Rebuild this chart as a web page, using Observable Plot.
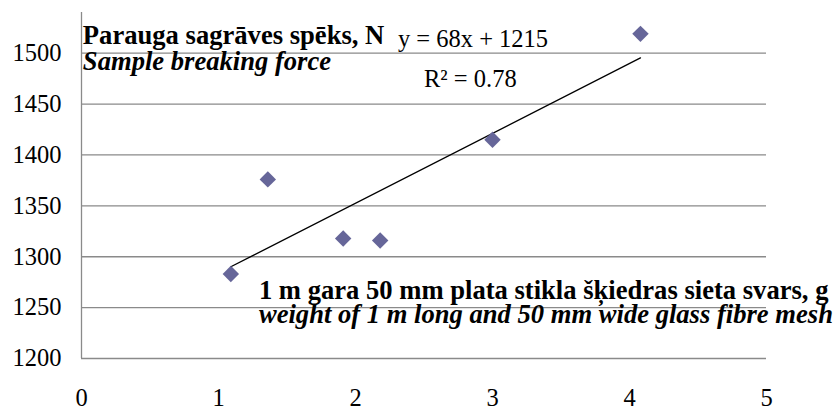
<!DOCTYPE html>
<html>
<head>
<meta charset="utf-8">
<script src="https://cdn.jsdelivr.net/npm/d3@7"></script>
<script src="https://cdn.jsdelivr.net/npm/@observablehq/plot@0.6"></script>
<style>
  html, body { margin: 0; padding: 0; background: #fff; }
  svg { display: block; }
  #chart svg, #chart svg text { font-family: "Liberation Serif", serif !important; }
</style>
</head>
<body>
<div id="chart"></div>
<script>
// Data
const meshWeight = [1.09, 1.36, 1.91, 2.18, 3.0, 4.08];
const breakingForce = [1283, 1376, 1318, 1316, 1415, 1519];
const yTicks = [1200, 1250, 1300, 1350, 1400, 1450, 1500];
const xTicks = [0, 1, 2, 3, 4, 5];
const yTitleLines = ["Parauga sagrāves spēks, N", "Sample breaking force"];
const xTitleLines = ["1 m gara 50 mm plata stikla šķiedras sieta svars, g", "weight of 1 m long and 50 mm wide glass fibre mesh"];
const equationText = ["y = 68x + 1215", "R² = 0.78"];

const points = meshWeight.map((x, i) => ({x, y: breakingForce[i]}));

const chart = Plot.plot({
  width: 834,
  height: 407,
  marginLeft: 81,
  marginRight: 68,
  marginTop: 12,
  marginBottom: 49,
  style: {fontSize: "24.5px", color: "#000", background: "#fff"},
  x: {domain: [0, 5], ticks: xTicks, tickSize: 0, tickPadding: 30, label: null, tickFormat: d3.format("d")},
  y: {domain: [1200, 1540], ticks: yTicks, tickSize: 0, tickPadding: 20, label: null, tickFormat: d3.format("d")},
  marks: [
    Plot.ruleY(yTicks, {stroke: "#8a8a8a", strokeWidth: 1.3}),
    Plot.ruleX([0], {stroke: "#8a8a8a", strokeWidth: 1.3}),
    Plot.linearRegressionY(points, {x: "x", y: "y", ci: 0, stroke: "#000", strokeWidth: 1.3}),
    Plot.dot(points, {x: "x", y: "y", symbol: "diamond2", r: 7.4, fill: "#666699", stroke: "none"}),
    Plot.text([yTitleLines[0]], {x: 0.01, y: 1509, text: d => d, textAnchor: "start", lineAnchor: "bottom", fontWeight: "bold", fontSize: 26.6}),
    Plot.text([yTitleLines[1]], {x: 0.01, y: 1483.5, text: d => d, textAnchor: "start", lineAnchor: "bottom", fontWeight: "bold", fontStyle: "italic", fontSize: 26.6}),
    Plot.text([equationText[0]], {x: 2.31, y: 1506, text: d => d, textAnchor: "start", lineAnchor: "bottom", fontSize: 24.5}),
    Plot.text([equationText[1]], {x: 2.50, y: 1466.6, text: d => d, textAnchor: "start", lineAnchor: "bottom", fontSize: 24.5}),
    Plot.text([xTitleLines[0]], {x: 1.295, y: 1258, text: d => d, textAnchor: "start", lineAnchor: "bottom", fontWeight: "bold", fontSize: 26.6}),
    Plot.text([xTitleLines[1]], {x: 1.295, y: 1235, text: d => d, textAnchor: "start", lineAnchor: "bottom", fontWeight: "bold", fontStyle: "italic", fontSize: 26.6})
  ]
});
chart.querySelectorAll("text").forEach(t => { t.style.fontFamily = "'Liberation Serif', serif"; });
document.getElementById("chart").appendChild(chart);
</script>
</body>
</html>
